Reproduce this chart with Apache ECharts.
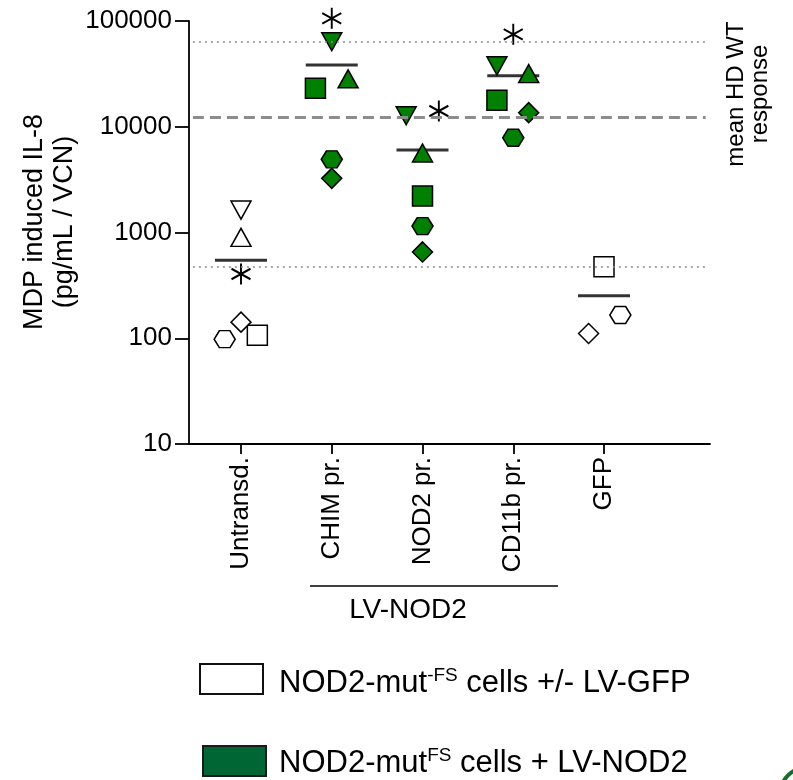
<!DOCTYPE html>
<html>
<head>
<meta charset="utf-8">
<script src="https://cdn.jsdelivr.net/npm/echarts@6/dist/echarts.min.js"></script>
<style>
    html, body { margin: 0; padding: 0; background: #fff; }
    #chart { width: 793px; height: 780px; }
</style>
</head>
<body>
<div id="chart"></div>
<script>
// groups on the x axis
var categories = ['Untransd.', 'CHIM pr.', 'NOD2 pr.', 'CD11b pr.', 'GFP'];
var isNod2 = [false, true, true, true, false];

// IL-8 values per donor (one symbol per donor), null = not measured
var downTriangle = [1630, 63700, 12700, 37700, null];
var upTriangle   = [900, 28400, 5650, 31800, null];
var asterisk     = [405, 106000, 14100, 74800, null];
var square       = [107, 23100, 2210, 17800, 475];
var hexagon      = [98, 4920, 1150, 7870, 166];
var diamond      = [142, 3250, 655, 13600, 111];
var means        = [546, 38400, 6030, 30400, 252];

// horizontal offsets of overlapping symbols, in category units
var jitterDown = [0, 0, -0.18, -0.18, 0];
var jitterUp   = [0, 0.18, 0, 0.17, 0];
var jitterAst  = [0, 0, 0.18, 0, 0];
var jitterSq   = [0.18, -0.18, 0, -0.18, 0];
var jitterHex  = [-0.18, 0, 0, 0, 0.18];
var jitterDia  = [0, 0, 0, 0.17, -0.17];

// reference lines
var hdWtUpper = 63700;
var hdWtMean = 12300;
var hdWtLower = 475;

var yTicks = [10, 100, 1000, 10000, 100000];

var FONT = "'Liberation Sans', Arial, sans-serif";
var GREEN = '#008000';

function points(values, jitter) {
    var out = [];
    values.forEach(function (v, i) {
        if (v == null) return;
        out.push({
            value: [i + 1 + jitter[i], v],
            itemStyle: { color: isNod2[i] ? GREEN : '#fff' }
        });
    });
    return out;
}

function markerSeries(name, values, jitter, symbol, size, lw) {
    return {
        name: name,
        type: 'scatter',
        symbol: symbol,
        symbolSize: size,
        clip: false,
        data: points(values, jitter),
        itemStyle: { borderColor: '#000', borderWidth: lw || 1.5, opacity: 1 },
        z: 3
    };
}

var myChart = echarts.init(document.getElementById('chart'));
var option = {
    animation: false,
    textStyle: { fontFamily: FONT },
    grid: { left: 189, top: 21, right: 83, bottom: 336, outerBoundsMode: 'none', containLabel: false },
    xAxis: {
        type: 'value',
        min: 0.427,
        max: 6.168,
        splitLine: { show: false },
        axisLine: { show: true, lineStyle: { color: '#000', width: 1.8 } },
        axisTick: { show: true, customValues: [1, 2, 3, 4, 5], length: 10, lineStyle: { color: '#000', width: 1.8 } },
        axisLabel: {
            customValues: [1, 2, 3, 4, 5],
            rotate: 90,
            margin: 13,
            fontSize: 26,
            color: '#000',
            fontFamily: FONT,
            formatter: function (v) { return categories[Math.round(v) - 1]; }
        }
    },
    yAxis: {
        type: 'log',
        logBase: 10,
        min: yTicks[0],
        max: yTicks[yTicks.length - 1],
        splitLine: { show: false },
        axisLine: { show: true, lineStyle: { color: '#000', width: 1.8 } },
        axisTick: { show: true, length: 14, lineStyle: { color: '#000', width: 1.8 } },
        axisLabel: {
            margin: 17,
            fontSize: 26,
            color: '#000',
            fontFamily: FONT,
            formatter: function (v) { return String(Math.round(v)); }
        }
    },
    series: [
        {
            name: 'mean',
            type: 'scatter',
            symbol: 'rect',
            symbolSize: [52, 3],
            itemStyle: { color: '#000' },
            data: means.map(function (v, i) { return [i + 1, v]; }),
            z: 2,
            markLine: {
                silent: true,
                symbol: 'none',
                label: { show: false },
                data: [
                    [{ coord: [0.47, hdWtUpper], lineStyle: { type: [2, 4], width: 1.5, color: '#8c8c8c' } }, { coord: [6.12, hdWtUpper] }],
                    [{ coord: [0.47, hdWtMean], lineStyle: { type: [11, 6], width: 3, color: '#8c8c8c' } }, { coord: [6.12, hdWtMean] }],
                    [{ coord: [0.47, hdWtLower], lineStyle: { type: [2, 4], width: 1.5, color: '#8c8c8c' } }, { coord: [6.12, hdWtLower] }]
                ]
            }
        },
        markerSeries('down triangle', downTriangle, jitterDown, 'path://M-10,-9 L10,-9 L0,9 Z', [20, 18]),
        markerSeries('up triangle', upTriangle, jitterUp, 'triangle', [20, 18]),
        markerSeries('square', square, jitterSq, 'rect', [20, 20]),
        markerSeries('hexagon', hexagon, jitterHex, 'path://M-10,0 L-5,-8.66 L5,-8.66 L10,0 L5,8.66 L-5,8.66 Z', [21, 17]),
        markerSeries('diamond', diamond, jitterDia, 'diamond', [20, 20]),
        markerSeries('asterisk', asterisk, jitterAst, 'path://M0,-10 L0,10 M-8.66,-5 L8.66,5 M-8.66,5 L8.66,-5', [19, 21], 2)
    ],
    graphic: [
        // y axis title
        {
            type: 'text', x: 50, y: 222, rotation: Math.PI / 2,
            style: { text: 'MDP induced IL-8\n(pg/mL / VCN)', font: '27px ' + FONT, fill: '#000', align: 'center', verticalAlign: 'middle', lineHeight: 30 }
        },
        // right label
        {
            type: 'text', x: 748, y: 94, rotation: Math.PI / 2,
            style: { text: 'mean HD WT\nresponse', font: '24px ' + FONT, fill: '#000', align: 'center', verticalAlign: 'middle', lineHeight: 24 }
        },
        // LV-NOD2 bracket
        { type: 'line', shape: { x1: 310, y1: 586, x2: 558, y2: 586 }, style: { stroke: '#000', lineWidth: 1.5 } },
        { type: 'text', x: 408, y: 610, style: { text: 'LV-NOD2', font: '28px ' + FONT, fill: '#000', align: 'center', verticalAlign: 'middle' } },
        // legend
        { type: 'rect', shape: { x: 200, y: 664, width: 63, height: 30 }, style: { fill: '#fff', stroke: '#111', lineWidth: 2 } },
        {
            type: 'text', x: 279, y: 683,
            style: {
                text: '{a|NOD2-mut}{s|-FS}{a| cells +/- LV-GFP}',
                verticalAlign: 'middle',
                rich: {
                    a: { fontSize: 31, fontFamily: FONT, fill: '#000', lineHeight: 34 },
                    s: { fontSize: 19, fontFamily: FONT, fill: '#000', lineHeight: 34, verticalAlign: 'top' }
                }
            }
        },
        { type: 'rect', shape: { x: 203, y: 746, width: 63, height: 30 }, style: { fill: '#006633', stroke: '#1a1a1a', lineWidth: 2 } },
        {
            type: 'text', x: 279, y: 763,
            style: {
                text: '{a|NOD2-mut}{s|FS}{a| cells + LV-NOD2}',
                verticalAlign: 'middle',
                rich: {
                    a: { fontSize: 31, fontFamily: FONT, fill: '#000', lineHeight: 34 },
                    s: { fontSize: 19, fontFamily: FONT, fill: '#000', lineHeight: 34, verticalAlign: 'top' }
                }
            }
        },
        // cut-off circle in the corner
        { type: 'circle', shape: { cx: 808, cy: 795, r: 28 }, style: { fill: 'none', stroke: '#1b6b30', lineWidth: 4 } }
    ]
};
myChart.setOption(option);
</script>
</body>
</html>
